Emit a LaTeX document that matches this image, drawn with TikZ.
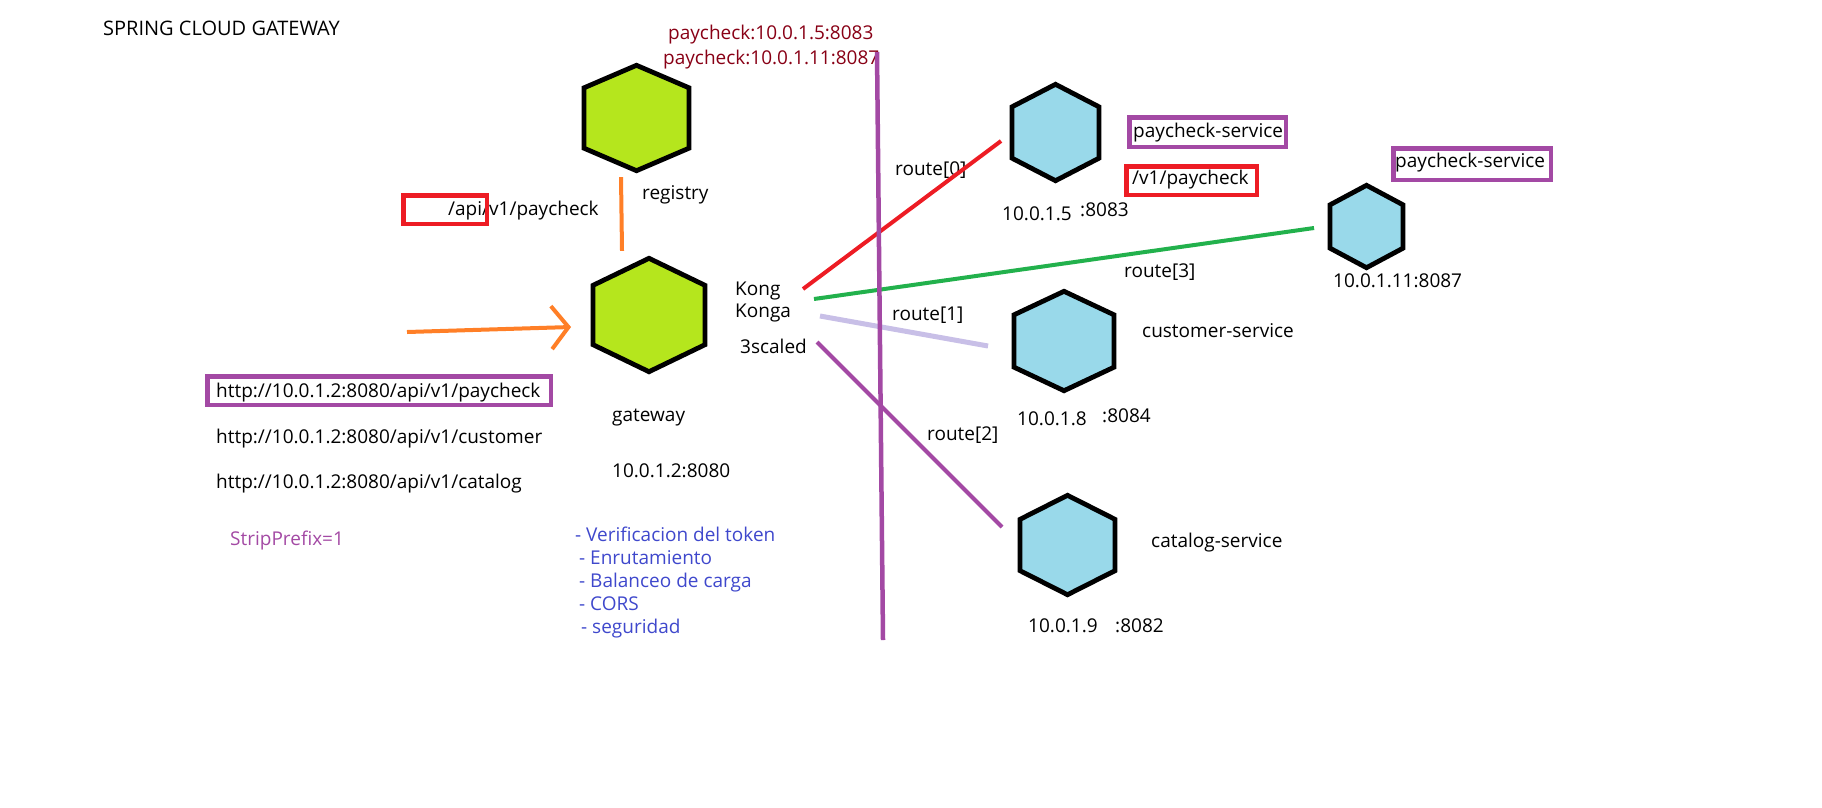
\documentclass[tikz,border=0pt]{standalone}
\usepackage{fontspec}
\setmainfont{Open Sans}
\usetikzlibrary{arrows.meta}

\definecolor{limefill}{HTML}{B5E61D}
\definecolor{skyfill}{HTML}{99D9EA}
\definecolor{paintred}{HTML}{ED1C24}
\definecolor{paintpurple}{HTML}{A349A4}
\definecolor{paintgreen}{HTML}{22B14C}
\definecolor{paintlavender}{HTML}{C8BFE7}
\definecolor{paintorange}{HTML}{FF7F27}
\definecolor{paintdarkred}{HTML}{880015}
\definecolor{paintblue}{HTML}{3F48CC}

% hexagon: name, x, y, width, height, cap, fill
\newcommand{\hexnode}[7]{%
  \node[hexbox,minimum width=#4pt,minimum height=#5pt] (#1) at (#2,#3) {};
  \draw[hexline,fill=#7] (#1.north) -- ([yshift=-#6pt]#1.north east) -- ([yshift=#6pt]#1.south east)
    -- (#1.south) -- ([yshift=#6pt]#1.south west) -- ([yshift=-#6pt]#1.north west) -- cycle;
}

\begin{document}
\begin{tikzpicture}[x=1pt,y=-1pt,font=\fontsize{19}{22}\selectfont,
  txt/.style={anchor=base west,inner sep=0pt},
  hexbox/.style={inner sep=0pt,draw=none},
  hexline/.style={draw=black,line width=4.8pt,line join=miter},
  framebox/.style={draw=#1,line width=4.5pt,inner sep=0pt},
  route/.style={draw=#1,line width=4pt}]
\useasboundingbox (0,0) rectangle (1822,807);

% --- hexagons
\hexnode{registry}{636.5}{118}{104.5}{105}{22.5}{limefill}
\hexnode{gateway}{649}{315}{111.5}{113}{27}{limefill}
\hexnode{paysvc}{1055.5}{132.5}{86.5}{96}{22.5}{skyfill}
\hexnode{paysvcb}{1366.5}{226.5}{72.5}{82}{19.5}{skyfill}
\hexnode{custsvc}{1064}{341}{99.5}{99}{23.5}{skyfill}
\hexnode{catsvc}{1067.5}{545}{94.5}{99}{24}{skyfill}

% --- texts
\node[txt,font=\fontsize{20}{24}\selectfont] (title) at (103,35) {SPRING CLOUD GATEWAY};
\node[txt,text=paintdarkred] (lbpay) at (668,39.5) {paycheck:10.0.1.5:8083};
\node[txt,text=paintdarkred] (lbpayb) at (663,64) {paycheck:10.0.1.11:8087};
\node[txt] (regname) at (642,199) {registry};
\node[txt] (apipath) at (448,215) {/api/v1/paycheck};
\node[txt] (kong) at (735,295) {Kong};
\node[txt] (konga) at (735,317) {Konga};
\node[txt] (threescale) at (740,353) {3scaled};
\node[txt] (gwname) at (612,421) {gateway};
\node[txt] (gwaddr) at (612,477) {10.0.1.2:8080};
\foreach \svc/\yy [count=\i] in {paycheck/397,customer/443,catalog/488}
  \node[txt] (url\i) at (216,\yy) {http://10.0.1.2:8080/api/v1/\svc};
\node[txt,text=paintpurple] (strip) at (230,545) {StripPrefix=1};
\foreach \task/\xx [count=\i from 0] in {Verificacion del token/575,Enrutamiento/579,Balanceo de carga/579,CORS/579,seguridad/581}
  \node[txt,text=paintblue] (task\i) at (\xx,{541+23*\i}) {- \task};

\node[txt] (rt0) at (895,175) {route[0]};
\node[txt] (rt1) at (892,320) {route[1]};
\node[txt] (rt2) at (927,440) {route[2]};
\node[txt] (rt3) at (1124,277) {route[3]};

\node[txt] (payip) at (1002,220) {10.0.1.5};
\node[txt] (payport) at (1080,216) {:8083};
\node[txt] (payname) at (1133,137) {paycheck-service};
\node[txt] (paypath) at (1132,184) {/v1/paycheck};
\node[txt] (paybname) at (1395,167) {paycheck-service};
\node[txt] (paybaddr) at (1333,287) {10.0.1.11:8087};
\node[txt] (custname) at (1142,337) {customer-service};
\node[txt] (custip) at (1017,425) {10.0.1.8};
\node[txt] (custport) at (1102,422) {:8084};
\node[txt] (catname) at (1151,547) {catalog-service};
\node[txt] (catip) at (1028,632) {10.0.1.9};
\node[txt] (catport) at (1115,632) {:8082};

% --- boxes
\node[framebox=paintred,minimum width=83.5pt,minimum height=28.5pt] (apibox) at (445,209.5) {};
\node[framebox=paintpurple,minimum width=343.5pt,minimum height=28.5pt] (urlbox) at (379,390.5) {};
\node[framebox=paintpurple,minimum width=156.5pt,minimum height=29.5pt] (paybox) at (1207.5,132) {};
\node[framebox=paintred,minimum width=130.5pt,minimum height=28.5pt] (pathbox) at (1191.5,180.5) {};
\node[framebox=paintpurple,minimum width=157.5pt,minimum height=31.5pt] (payboxb) at (1472,164) {};

% --- connectors
\coordinate (client) at (407,332);
\draw[route=paintorange,-{Straight Barb[length=17pt,width=43pt]}] (client) -- ([xshift=-22pt,yshift=-12pt]gateway.west);
\draw[route=paintorange] ([xshift=-15.5pt,yshift=-6.5pt]registry.south) -- ([xshift=-27pt,yshift=7.5pt]gateway.north);

\coordinate (hubr) at (803,289);
\coordinate (hubg) at (814,299);
\coordinate (hubl) at (820,316);
\coordinate (hubp) at (817,342);
\draw[route=paintred] (hubr) -- ([xshift=-11pt,yshift=-8.5pt]paysvc.west); % route[0]
\draw[route=paintgreen] (hubg) -- ([xshift=-16pt,yshift=-1.5pt]paysvcb.west); % route[3]
\draw[route=paintlavender,line width=5pt] (hubl) -- ([xshift=-26pt,yshift=-5pt]custsvc.west); % route[1]
\draw[route=paintpurple] (hubp) -- ([xshift=-18pt,yshift=18pt]catsvc.west); % route[2]

% --- divider
\coordinate (divtop) at (877,52);
\coordinate (divbot) at (883,640);
\draw[route=paintpurple,line width=4.5pt] (divtop) -- (divbot);
\end{tikzpicture}
\end{document}
